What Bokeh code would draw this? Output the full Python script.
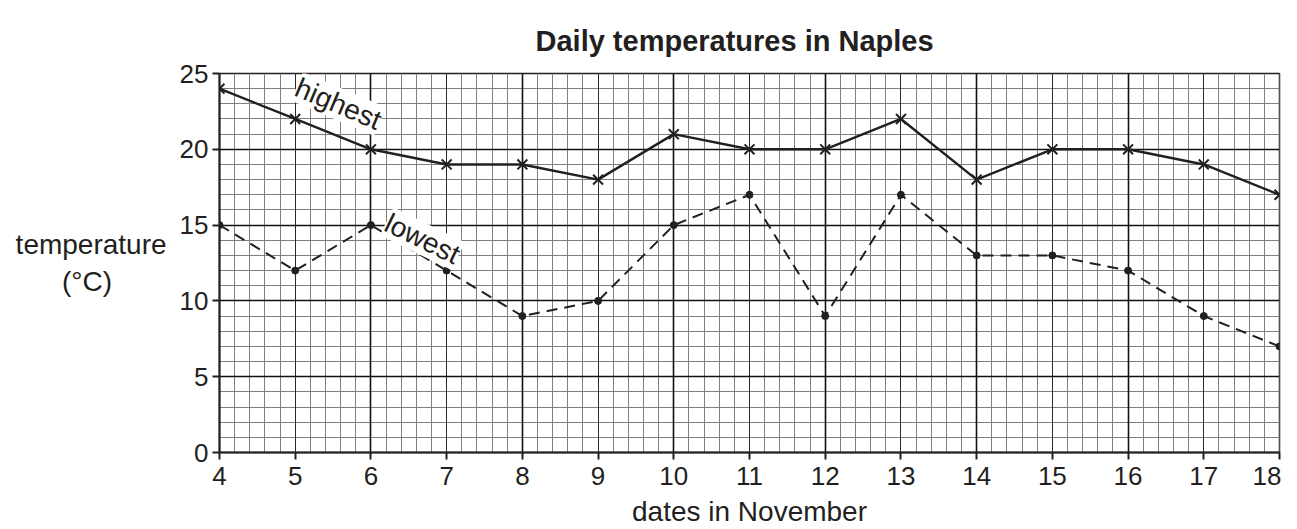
import numpy as np
from bokeh.plotting import figure
from bokeh.models import Grid, FixedTicker, Label, Range1d
from bokeh.embed import file_html
from bokeh.resources import INLINE

dates = [4, 5, 6, 7, 8, 9, 10, 11, 12, 13, 14, 15, 16, 17, 18]
highest = [24, 22, 20, 19, 19, 18, 21, 20, 20, 22, 18, 20, 20, 19, 17]
lowest = [15, 12, 15, 12, 9, 10, 15, 17, 9, 17, 13, 13, 12, 9, 7]
y_ticks = [0, 5, 10, 15, 20, 25]
title_text = "Daily temperatures in Naples"
x_label = "dates in November"
y_label = "temperature\n(°C)" + "\u00a0" * 7

FONT = "Liberation Sans"
INK = "#231f20"

p = figure(width=1281, height=529, output_backend="svg", toolbar_location=None,
           x_range=Range1d(4, 18), y_range=Range1d(0, 25),
           min_border_left=219, min_border_right=2, min_border_top=73, min_border_bottom=77,
           title=title_text)
p.outline_line_color = INK
p.outline_line_width = 1.5
p.background_fill_color = "white"

p.title.align = "left"
p.title.offset = 316
p.title.standoff = 30
p.title.vertical_align = "top"
p.title.text_font = FONT
p.title.text_font_size = "29px"
p.title.text_font_style = "bold"
p.title.text_color = INK

p.xgrid.visible = False
p.ygrid.visible = False

# grid hierarchy
p.add_layout(Grid(dimension=0, ticker=FixedTicker(ticks=list(np.arange(4, 18.01, 0.2))),
                  grid_line_color="#7f7f7f", grid_line_width=1), "center")
p.add_layout(Grid(dimension=1, ticker=FixedTicker(ticks=list(range(0, 26))),
                  grid_line_color="#7f7f7f", grid_line_width=1), "center")
p.add_layout(Grid(dimension=0, ticker=FixedTicker(ticks=dates),
                  grid_line_color="#2a2a2a", grid_line_width=1), "center")
p.add_layout(Grid(dimension=0, ticker=FixedTicker(ticks=dates[::2]),
                  grid_line_color="#111111", grid_line_width=1.6), "center")
p.add_layout(Grid(dimension=1, ticker=FixedTicker(ticks=y_ticks),
                  grid_line_color="#111111", grid_line_width=1.6), "center")

for ax in (p.xaxis, p.yaxis):
    ax.axis_line_color = INK
    ax.axis_line_width = 2
    ax.major_tick_line_color = INK
    ax.major_tick_line_width = 2
    ax.major_tick_out = 7
    ax.major_tick_in = 0
    ax.minor_tick_line_color = None
    ax.major_label_text_font = FONT
    ax.major_label_text_font_size = "26px"
    ax.major_label_text_color = INK
    ax.axis_label_text_font = FONT
    ax.axis_label_text_font_size = "28px"
    ax.axis_label_text_font_style = "normal"
    ax.axis_label_text_color = INK

p.xaxis.ticker = FixedTicker(ticks=dates)
p.yaxis.ticker = FixedTicker(ticks=y_ticks)
p.xaxis.major_label_standoff = 7
p.yaxis.major_label_standoff = 4
p.xaxis.axis_label = x_label
p.yaxis.axis_label = y_label
p.yaxis.axis_label_orientation = "horizontal"
p.xaxis.axis_label_standoff = 8
p.yaxis.axis_label_standoff = 10

# series
p.line(dates, highest, line_color=INK, line_width=2.4)
p.scatter(dates, highest, marker="x", size=14, line_color=INK, line_width=2)
p.line(dates, lowest, line_color=INK, line_width=2, line_dash="11 7")
p.scatter(dates, lowest, marker="circle", size=7, fill_color=INK, line_color=INK)

p.add_layout(Label(x=5.57, y=23.0, text="highest", angle=-23, angle_units="deg",
                   text_align="center", text_baseline="middle",
                   text_font=FONT, text_font_size="28px", text_color=INK,
                   background_fill_color="white"))
p.add_layout(Label(x=6.68, y=14.1, text="lowest", angle=-26, angle_units="deg",
                   text_align="center", text_baseline="middle",
                   text_font=FONT, text_font_size="28px", text_color=INK,
                   background_fill_color="white"))

open("out.html", "w").write(file_html(p, INLINE))
